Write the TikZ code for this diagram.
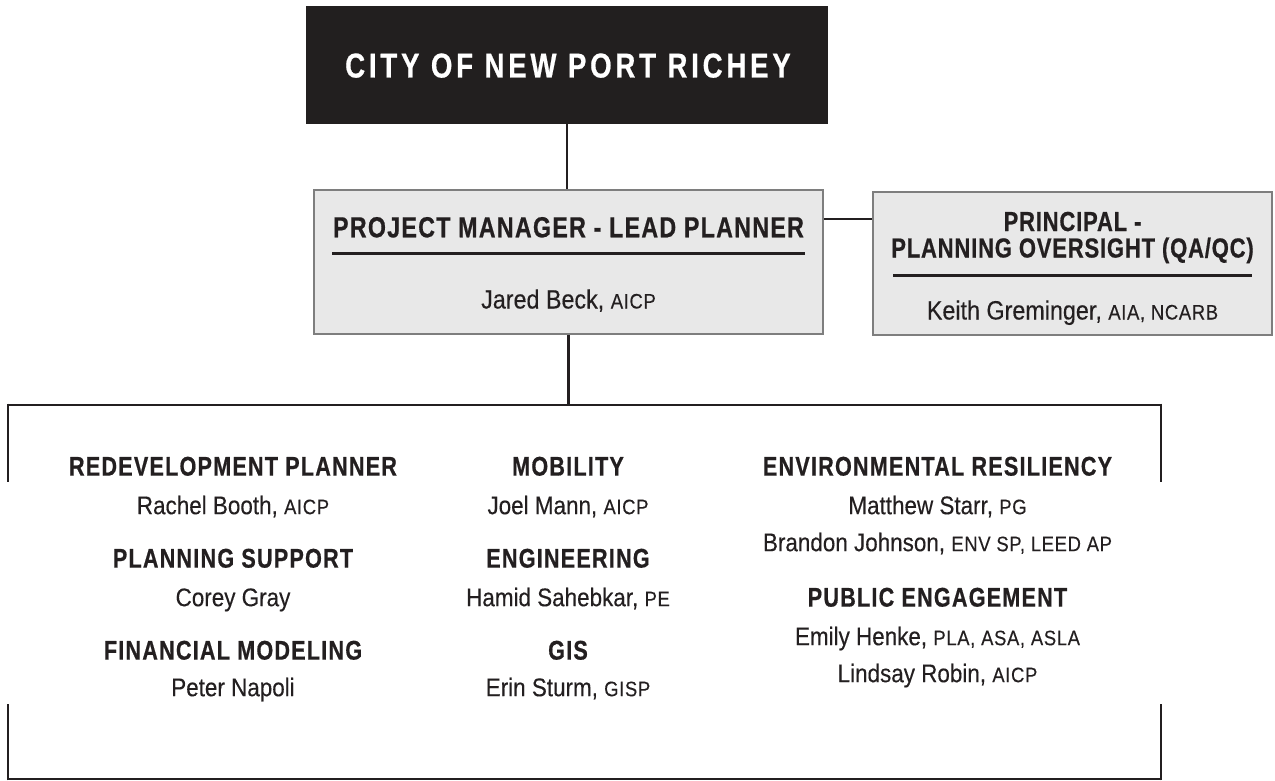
\documentclass[tikz,border=0pt]{standalone}
\usepackage{fontspec}
\newfontfamily\headfont{Liberation Sans}[FakeStretch=0.80,LetterSpace=4.5,FakeBold=0.6]
\newfontfamily\titlefont{Liberation Sans}[FakeStretch=0.80,LetterSpace=11,FakeBold=0.6]
\newfontfamily\bodyfont{Liberation Sans}[FakeStretch=0.88,FakeBold=0.25]
\definecolor{ink}{HTML}{231F20}
\definecolor{boxfill}{HTML}{E8E8E8}
\definecolor{boxline}{HTML}{7E7E7E}
\definecolor{titlefill}{HTML}{221F1F}
\newcommand\cred[1]{{\fontsize{21}{21}\selectfont\addfontfeature{LetterSpace=3}#1}}
\tikzset{
  titlebox/.style={fill=titlefill, draw=none, minimum width=522pt, minimum height=118pt, inner sep=0pt},
  rolebox/.style={fill=boxfill, draw=boxline, line width=1.5pt, inner sep=0pt},
  link/.style={draw=ink, line width=2.4pt},
  rule/.style={draw=ink, line width=3pt},
  head/.style={anchor=base, inner sep=0pt, text=ink, font=\headfont\bfseries\fontsize{27}{27}\selectfont},
  bighead/.style={anchor=base, inner sep=0pt, text=ink, font=\headfont\bfseries\fontsize{29}{29}\selectfont},
  qahead/.style={anchor=base, inner sep=0pt, text=ink, font=\headfont\bfseries\fontsize{27.5}{27.5}\selectfont\addfontfeature{LetterSpace=3}},
  body/.style={anchor=base, inner sep=0pt, text=ink, font=\bodyfont\fontsize{25.5}{25.5}\selectfont},
  bigbody/.style={anchor=base, inner sep=0pt, text=ink, font=\bodyfont\fontsize{26.5}{26.5}\selectfont},
}
\begin{document}
\begin{tikzpicture}[x=1pt,y=-1pt]
\useasboundingbox (0,0) rectangle (1275,781);

% top of the chart
\node[titlebox] (city) at (567,65) {};
\node[anchor=base, inner sep=0pt, text=white, font=\titlefont\bfseries\fontsize{34.5}{34.5}\selectfont] (citytxt) at (568,77.5) {CITY OF NEW PORT RICHEY};

% project manager and principal
\node[rolebox, minimum width=509pt, minimum height=144pt] (pm) at (568.5,262) {};
\node[rolebox, minimum width=399pt, minimum height=143pt] (qa) at (1072.5,263.5) {};

\node[bighead] (pmhead) at (568.5,237.3) {PROJECT MANAGER - LEAD PLANNER};
\draw[rule] (332,253) -- (805,253);
\node[bigbody] (pmname) at (568.5,308.5) {Jared Beck, \cred{AICP}};

\node[qahead] (qahead1) at (1072.5,231) {PRINCIPAL -};
\node[qahead] (qahead2) at (1072.5,257.5) {PLANNING OVERSIGHT (QA/QC)};
\draw[rule] (893,275) -- (1252,275);
\node[bigbody] (qaname) at (1072.5,319.5) {Keith Greminger, \cred{AIA, NCARB}};

% team bracket
\node[minimum width=1153pt, minimum height=374pt, inner sep=0pt] (team) at (584.5,592) {};

% connectors
\draw[link] (city.south) -- (city.south |- pm.north);
\draw[link] (pm.east |- 0,219) -- (qa.west |- 0,219);
\draw[link] (pm.south) -- (pm.south |- team.north);

\draw[link] (team.north west) -- (team.north east);
\draw[link] (team.south west) -- (team.south east);
\draw[link] ([yshift=1.2pt]team.north west) -- ++(0,78);
\draw[link] ([yshift=1.2pt]team.north east) -- ++(0,78);
\draw[link] ([yshift=-1.2pt]team.south west) -- ++(0,-76);
\draw[link] ([yshift=-1.2pt]team.south east) -- ++(0,-76);

% left column
\node[head] (r1) at (233,475.6) {REDEVELOPMENT PLANNER};
\node[body] (n1) at (233,514.2) {Rachel Booth, \cred{AICP}};
\node[head] (r2) at (233,567.6) {PLANNING SUPPORT};
\node[body] (n2) at (233,606.2) {Corey Gray};
\node[head] (r3) at (233,659.6) {FINANCIAL MODELING};
\node[body] (n3) at (233,696.2) {Peter Napoli};

% middle column
\node[head] (r4) at (568,475.6) {MOBILITY};
\node[body] (n4) at (568,514.2) {Joel Mann, \cred{AICP}};
\node[head] (r5) at (568,567.6) {ENGINEERING};
\node[body] (n5) at (568,606.2) {Hamid Sahebkar, \cred{PE}};
\node[head] (r6) at (568,659.6) {GIS};
\node[body] (n6) at (568,696.2) {Erin Sturm, \cred{GISP}};

% right column
\node[head] (r7) at (937.5,475.6) {ENVIRONMENTAL RESILIENCY};
\node[body] (n7) at (937.5,514.2) {Matthew Starr, \cred{PG}};
\node[body] (n8) at (937.5,551.2) {Brandon Johnson, \cred{ENV SP, LEED AP}};
\node[head] (r8) at (937.5,606.6) {PUBLIC ENGAGEMENT};
\node[body] (n9) at (937.5,645.2) {Emily Henke, \cred{PLA, ASA, ASLA}};
\node[body] (n10) at (937.5,682.2) {Lindsay Robin, \cred{AICP}};
\end{tikzpicture}
\end{document}
